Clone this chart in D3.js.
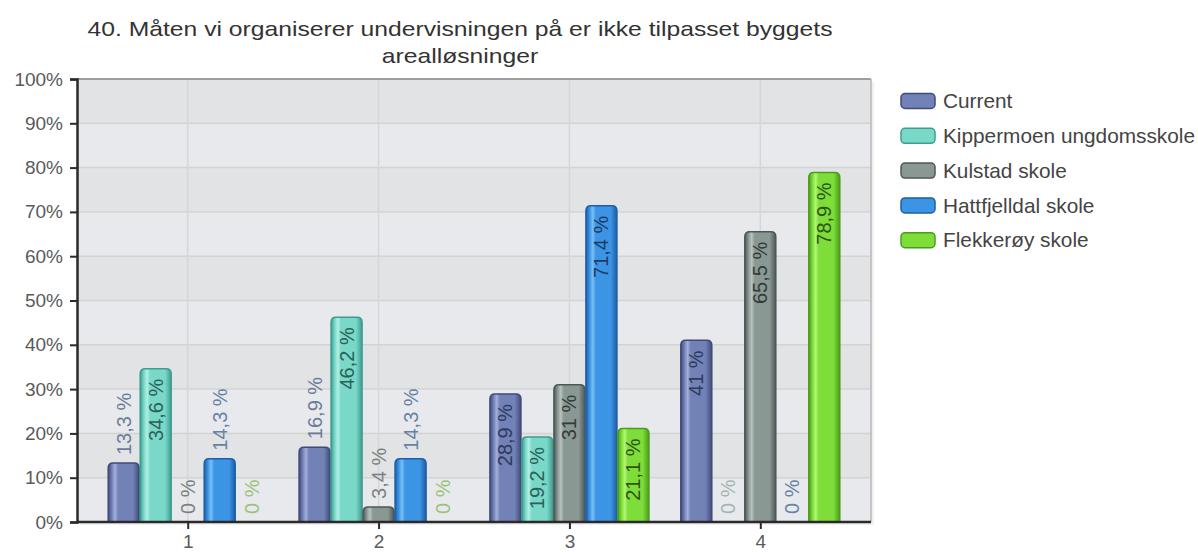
<!DOCTYPE html>
<html>
<head>
<meta charset="utf-8">
<script src="https://d3js.org/d3.v7.min.js"></script>
<style>
    body { margin: 0; background: #fff; }
    svg { display: block; font-family: "Liberation Sans", Arial, sans-serif; }
</style>
</head>
<body>
<script>
// data
var categories = ["1", "2", "3", "4"];
var seriesNames = ["Current", "Kippermoen ungdomsskole", "Kulstad skole", "Hattfjelldal skole", "Flekkerøy skole"];
var current      = [13.3, 16.9, 28.9, 41];
var kippermoen   = [34.6, 46.2, 19.2, 0];
var kulstad      = [0, 3.4, 31, 65.5];
var hattfjelldal = [14.3, 14.3, 71.4, 0];
var flekkeroy    = [0, 0, 21.1, 78.9];
var yTicks = [0, 10, 20, 30, 40, 50, 60, 70, 80, 90, 100];
var titleLines = ["40. Måten vi organiserer undervisningen på er ikke tilpasset byggets", "arealløsninger"];

var seriesValues = [current, kippermoen, kulstad, hattfjelldal, flekkeroy];

// colours: border, base, highlight, label inside, label outside
var palette = [
    {edge: "#3f4b7a", base: "#7281b6", hi: "#a4b0da", inLab: "#2e3a62", outLab: "#6e7b98"},
    {edge: "#3e9d8f", base: "#79d8c8", hi: "#b0f0e6", inLab: "#2b6158", outLab: "#a6b4b1"},
    {edge: "#4c5856", base: "#8a9894", hi: "#b8c3c0", inLab: "#323b39", outLab: "#7a8280"},
    {edge: "#1d5ea6", base: "#3c94e4", hi: "#78c0f8", inLab: "#1c3c66", outLab: "#6682a6"},
    {edge: "#4b9c1c", base: "#7edd38", hi: "#b2f77a", inLab: "#2d5614", outLab: "#9cc27a"}
];

var W = 1198, H = 552;
var plot = {left: 77, right: 871, top: 79, bottom: 522};

var svg = d3.select("body").append("svg").attr("width", W).attr("height", H);
var defs = svg.append("defs");

palette.forEach(function (c, i) {
    var g = defs.append("linearGradient").attr("id", "grad" + i)
        .attr("x1", "0%").attr("x2", "100%").attr("y1", "0%").attr("y2", "0%");
    g.append("stop").attr("offset", "0%").attr("stop-color", c.edge);
    g.append("stop").attr("offset", "12%").attr("stop-color", c.base);
    g.append("stop").attr("offset", "22%").attr("stop-color", c.hi);
    g.append("stop").attr("offset", "32%").attr("stop-color", c.base);
    g.append("stop").attr("offset", "80%").attr("stop-color", c.base);
    g.append("stop").attr("offset", "100%").attr("stop-color", c.edge);
});

var y = d3.scaleLinear().domain([0, 100]).range([plot.bottom, plot.top]);
var x0 = d3.scalePoint().domain(categories).range([plot.left, plot.right]).padding(0.58);
var groupW = 160;
var x1 = d3.scaleBand().domain(d3.range(seriesNames.length)).range([-groupW / 2, groupW / 2]).padding(0);

// plot shadow + banded background
svg.append("rect")
    .attr("x", plot.left + 3).attr("y", plot.top + 3)
    .attr("width", plot.right - plot.left).attr("height", plot.bottom - plot.top)
    .attr("fill", "#f0f0f0");
svg.selectAll(".band")
    .data(yTicks.slice(0, -1))
    .enter().append("rect")
    .attr("x", plot.left).attr("width", plot.right - plot.left)
    .attr("y", function (d) { return y(d + 10); })
    .attr("height", function (d) { return y(d) - y(d + 10); })
    .attr("fill", function (d, i) { return i % 2 ? "#e2e3e5" : "#e7e9ec"; });

// grid
svg.selectAll(".hgrid")
    .data(yTicks.slice(1))
    .enter().append("line")
    .attr("x1", plot.left).attr("x2", plot.right)
    .attr("y1", function (d) { return y(d); }).attr("y2", function (d) { return y(d); })
    .attr("stroke", "#d3d3d3").attr("stroke-width", 1.5);
svg.selectAll(".vgrid")
    .data(categories)
    .enter().append("line")
    .attr("x1", function (d) { return x0(d); }).attr("x2", function (d) { return x0(d); })
    .attr("y1", plot.top).attr("y2", plot.bottom)
    .attr("stroke", "#d6d6d6").attr("stroke-width", 1.5);

// border top / right
svg.append("line").attr("x1", plot.left).attr("x2", plot.right).attr("y1", plot.top).attr("y2", plot.top)
    .attr("stroke", "#8a8a8a").attr("stroke-width", 1.5);
svg.append("line").attr("x1", plot.right).attr("x2", plot.right).attr("y1", plot.top).attr("y2", plot.bottom)
    .attr("stroke", "#b8b8b8").attr("stroke-width", 1.5);

// bars
function barPath(xl, w, top, bottom, r) {
    r = Math.min(r, (bottom - top));
    if (bottom - top < 0.5) return "";
    return "M" + xl + "," + bottom +
        "V" + (top + r) +
        "Q" + xl + "," + top + " " + (xl + r) + "," + top +
        "H" + (xl + w - r) +
        "Q" + (xl + w) + "," + top + " " + (xl + w) + "," + (top + r) +
        "V" + bottom + "Z";
}

var rows = [];
categories.forEach(function (c, ci) {
    seriesValues.forEach(function (vals, si) {
        rows.push({cat: c, s: si, v: vals[ci]});
    });
});

var bw = x1.bandwidth();
svg.selectAll(".bar")
    .data(rows)
    .enter().append("path")
    .attr("d", function (d) {
        var xl = x0(d.cat) + x1(d.s) + 0.5;
        return barPath(xl, bw - 1, y(d.v), plot.bottom, 5);
    })
    .attr("fill", function (d) { return "url(#grad" + d.s + ")"; })
    .attr("stroke", function (d) { return palette[d.s].edge; })
    .attr("stroke-width", 1.5);

// value labels
function fmt(v) { return String(v).replace(".", ",") + " %"; }
svg.selectAll(".vlab")
    .data(rows)
    .enter().append("text")
    .attr("transform", function (d) {
        var cx = x0(d.cat) + x1(d.s) + bw / 2;
        var inside = d.v >= 18;
        var yy = inside ? y(d.v) + 10 : y(d.v) - 8;
        return "translate(" + cx + "," + yy + ") rotate(-90)";
    })
    .attr("text-anchor", function (d) { return d.v >= 18 ? "end" : "start"; })
    .attr("dy", "0.35em")
    .attr("font-size", 20)
    .attr("fill", function (d) { return d.v >= 18 ? palette[d.s].inLab : palette[d.s].outLab; })
    .text(function (d) { return fmt(d.v); });

// axes
var yAxis = svg.append("g").attr("transform", "translate(" + plot.left + ",0)")
    .call(d3.axisLeft(y).tickValues(yTicks).tickSize(7).tickPadding(7).tickFormat(function (d) { return d + "%"; }));
yAxis.select(".domain").attr("stroke", "#2a2a2a").attr("stroke-width", 2.5);
yAxis.selectAll(".tick line").attr("stroke", "#2a2a2a").attr("stroke-width", 2);
yAxis.selectAll(".tick text").attr("font-size", 19).attr("fill", "#5a5a5a")
    .attr("font-family", "Liberation Sans, Arial, sans-serif");

var xAxis = svg.append("g").attr("transform", "translate(0," + plot.bottom + ")")
    .call(d3.axisBottom(x0).tickSize(7).tickPadding(6));
xAxis.select(".domain").attr("stroke", "#2a2a2a").attr("stroke-width", 2.5)
    .attr("d", "M" + plot.left + ",0H" + plot.right);
xAxis.selectAll(".tick line").attr("stroke", "#2a2a2a").attr("stroke-width", 2);
xAxis.selectAll(".tick text").attr("font-size", 19).attr("fill", "#5a5a5a")
    .attr("font-family", "Liberation Sans, Arial, sans-serif");

// title
var t1 = svg.append("text").attr("x", 460).attr("y", 36).attr("text-anchor", "middle")
    .attr("font-size", 21).attr("fill", "#333").text(titleLines[0]);
var nat1 = t1.node().getComputedTextLength();
var ratio = 745 / nat1;
t1.attr("textLength", 745).attr("lengthAdjust", "spacingAndGlyphs");
var t2 = svg.append("text").attr("x", 460).attr("y", 63).attr("text-anchor", "middle")
    .attr("font-size", 21).attr("fill", "#333").text(titleLines[1]);
t2.attr("textLength", t2.node().getComputedTextLength() * ratio).attr("lengthAdjust", "spacingAndGlyphs");

// legend
var legend = svg.append("g").attr("transform", "translate(901,101)");
var li = legend.selectAll(".li").data(seriesNames).enter().append("g")
    .attr("transform", function (d, i) { return "translate(0," + (i * 34.8) + ")"; });
li.append("rect").attr("x", 0).attr("y", -7.5).attr("width", 34).attr("height", 15).attr("rx", 4)
    .attr("fill", function (d, i) { return palette[i].base; })
    .attr("stroke", function (d, i) { return palette[i].edge; }).attr("stroke-width", 1.5);
li.append("text").attr("x", 42).attr("dy", "0.35em").attr("font-size", 20.8).attr("fill", "#444")
    .text(function (d) { return d; });
</script>
</body>
</html>
